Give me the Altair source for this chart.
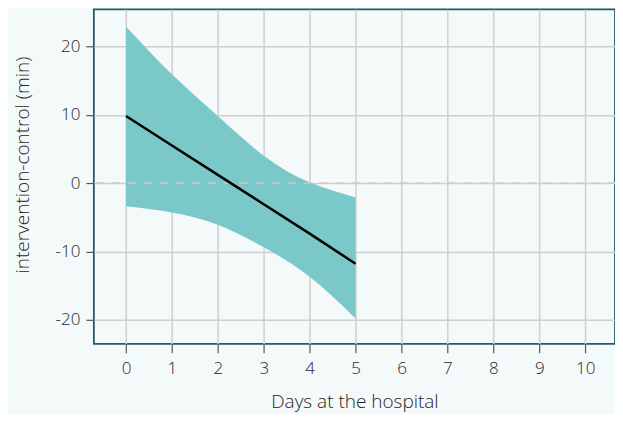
import altair as alt
import pandas as pd

days = [0, 1, 2, 3, 4, 5]
estimate = [9.8, 5.5, 1.2, -3.1, -7.4, -11.8]
upper = [22.9, 15.9, 9.8, 4.0, 0.1, -2.1]
lower = [-3.4, -4.3, -6.1, -9.4, -13.7, -19.8]

df = pd.DataFrame({"day": days, "est": estimate, "hi": upper, "lo": lower})

xscale = alt.Scale(domain=[-0.7, 10.65], nice=False, zero=False)
yscale = alt.Scale(domain=[-23.5, 25.4], nice=False, zero=False)

font = "Open Sans"
txt = "#262626"

xaxis = alt.Axis(values=list(range(0, 11)), title="Days at the hospital", grid=True,
                 gridColor="#cfcfcf", gridWidth=1.5, domain=False, tickColor="#555555",
                 tickSize=9, tickWidth=1.2, labelFontSize=17, labelColor=txt,
                 labelFontWeight=300, labelPadding=8, titleFontSize=19, titleFontWeight=300,
                 titleColor=txt, titleY=64, titleBaseline="alphabetic",
                 labelFont=font, titleFont=font)
yaxis = alt.Axis(values=[-20, -10, 0, 10, 20], title="intervention-control (min)", grid=True,
                 gridColor="#cfcfcf", gridWidth=1.5, domain=False, tickColor="#555555",
                 tickSize=8, tickWidth=1.2, labelFontSize=17, labelColor=txt,
                 labelFontWeight=300, labelPadding=6, titleFontSize=19, titleFontWeight=300,
                 titleColor=txt, titleX=-65, titleY=155.5, titleBaseline="alphabetic",
                 labelExpr="'' + datum.value",
                 labelFont=font, titleFont=font)

band = alt.Chart(df).mark_area(color="#7ac9c8", opacity=1, interpolate="natural").encode(
    x=alt.X("day:Q", scale=xscale, axis=xaxis),
    y=alt.Y("lo:Q", scale=yscale, axis=yaxis),
    y2="hi:Q",
)

zero = alt.Chart(pd.DataFrame({"z": [0]})).mark_rule(
    color="#cccccc", strokeDash=[8, 8], strokeWidth=1.5
).encode(y=alt.Y("z:Q", scale=yscale))

line = alt.Chart(df).mark_line(color="#000000", strokeWidth=2.5).encode(
    x=alt.X("day:Q", scale=xscale),
    y=alt.Y("est:Q", scale=yscale),
)

chart = alt.layer(band, zero, line).properties(
    width=522, height=335,
    background="#f4f9f9",
    padding={"left": 86, "top": 1, "right": 0, "bottom": 70},
    autosize=alt.AutoSizeParams(type="none"),
).configure_view(
    stroke="#1f5c6c", strokeWidth=1.8, fill="#f4f9f9"
)

chart.save("out.html", embed_options={"renderer": "svg", "actions": False})
